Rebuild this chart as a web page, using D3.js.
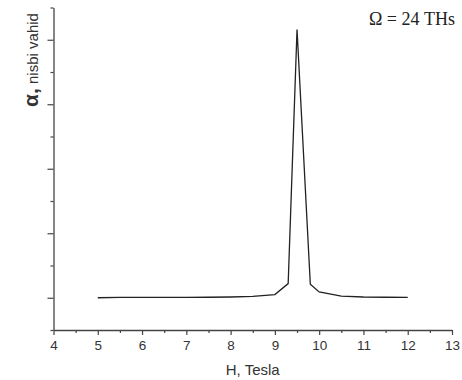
<!DOCTYPE html>
<html>
<head>
<meta charset="utf-8">
<script src="https://cdn.jsdelivr.net/npm/d3@7"></script>
<style>
  html, body { margin: 0; padding: 0; background: #fff; }
  svg { display: block; }
</style>
</head>
<body>
<script>
// Data
const fieldH = [5, 5.5, 6, 6.5, 7, 7.5, 8, 8.5, 9, 9.3, 9.5, 9.8, 10, 10.5, 11, 11.5, 12];
const alphaValues = [0, 0.005, 0.005, 0.005, 0.006, 0.008, 0.012, 0.022, 0.05, 0.22, 4.16, 0.21, 0.09, 0.025, 0.012, 0.008, 0.006];
const xMajorTicks = [4, 5, 6, 7, 8, 9, 10, 11, 12, 13];
const xMinorTicks = [4.5, 5.5, 6.5, 7.5, 8.5, 9.5, 10.5, 11.5, 12.5];
const yMajorTicks = [0, 1, 2, 3, 4];
const yMinorTicks = [-0.5, 0.5, 1.5, 2.5, 3.5, 4.5];
const xTitle = "H, Tesla";
const yTitleSymbol = "α,";
const yTitleText = " nisbi vahid";
const annotation = "Ω = 24 THs";

const W = 462, H = 380;
const svg = d3.select("body").append("svg").attr("width", W).attr("height", H);

const x = d3.scaleLinear().domain([4, 13]).range([53.5, 452]);
const y = d3.scaleLinear().domain([-0.5, 4.5]).range([330, 7.5]);

const axisColor = "#444";

// X axis minor ticks
svg.append("g")
  .attr("transform", `translate(0,${y(-0.5)})`)
  .call(d3.axisBottom(x).tickValues(xMinorTicks).tickSize(3).tickSizeOuter(0).tickFormat(""))
  .call(g => g.select(".domain").remove())
  .call(g => g.selectAll("line").attr("stroke", axisColor).attr("stroke-width", 1.2));

// X axis major
const gx = svg.append("g")
  .attr("transform", `translate(0,${y(-0.5)})`)
  .call(d3.axisBottom(x).tickValues(xMajorTicks).tickSize(5).tickSizeOuter(0).tickFormat(d3.format("d")));
gx.select(".domain").attr("stroke", axisColor).attr("stroke-width", 1.3);
gx.selectAll("line").attr("stroke", axisColor).attr("stroke-width", 1.2);
gx.selectAll("text")
  .attr("fill", "#333")
  .attr("font-family", "'Liberation Sans', Arial, sans-serif")
  .attr("font-size", 13.5)
  .attr("dy", "0.9em");

// Y axis minor ticks
svg.append("g")
  .attr("transform", `translate(${x(4)},0)`)
  .call(d3.axisLeft(y).tickValues(yMinorTicks).tickSize(3).tickSizeOuter(0).tickFormat(""))
  .call(g => g.select(".domain").remove())
  .call(g => g.selectAll("line").attr("stroke", axisColor).attr("stroke-width", 1.2));

// Y axis major
const gy = svg.append("g")
  .attr("transform", `translate(${x(4)},0)`)
  .call(d3.axisLeft(y).tickValues(yMajorTicks).tickSize(6).tickSizeOuter(0).tickFormat(""));
gy.select(".domain").attr("stroke", axisColor).attr("stroke-width", 1.3);
gy.selectAll("line").attr("stroke", axisColor).attr("stroke-width", 1.2);

// Line
const line = d3.line().x((d, i) => x(fieldH[i])).y(d => y(d));
svg.append("path")
  .datum(alphaValues)
  .attr("d", line)
  .attr("fill", "none")
  .attr("stroke", "#222")
  .attr("stroke-width", 1.3)
  .attr("stroke-linejoin", "miter");

// X title
svg.append("text")
  .attr("x", (x(4) + x(13)) / 2)
  .attr("y", 375)
  .attr("text-anchor", "middle")
  .attr("fill", "#333")
  .attr("font-family", "'Liberation Sans', Arial, sans-serif")
  .attr("font-size", 15)
  .text(xTitle);

// Y title
const yt = svg.append("text")
  .attr("transform", "translate(38,60) rotate(-90)")
  .attr("text-anchor", "middle")
  .attr("fill", "#333")
  .attr("font-family", "'Liberation Sans', Arial, sans-serif");
yt.append("tspan").attr("font-size", 21).attr("font-weight", "bold").text(yTitleSymbol);
yt.append("tspan").attr("font-size", 15).text(yTitleText);

// Annotation
svg.append("text")
  .attr("x", 455)
  .attr("y", 25)
  .attr("text-anchor", "end")
  .attr("fill", "#222")
  .attr("font-family", "'Liberation Serif', 'Times New Roman', serif")
  .attr("font-size", 18)
  .text(annotation);
</script>
</body>
</html>
